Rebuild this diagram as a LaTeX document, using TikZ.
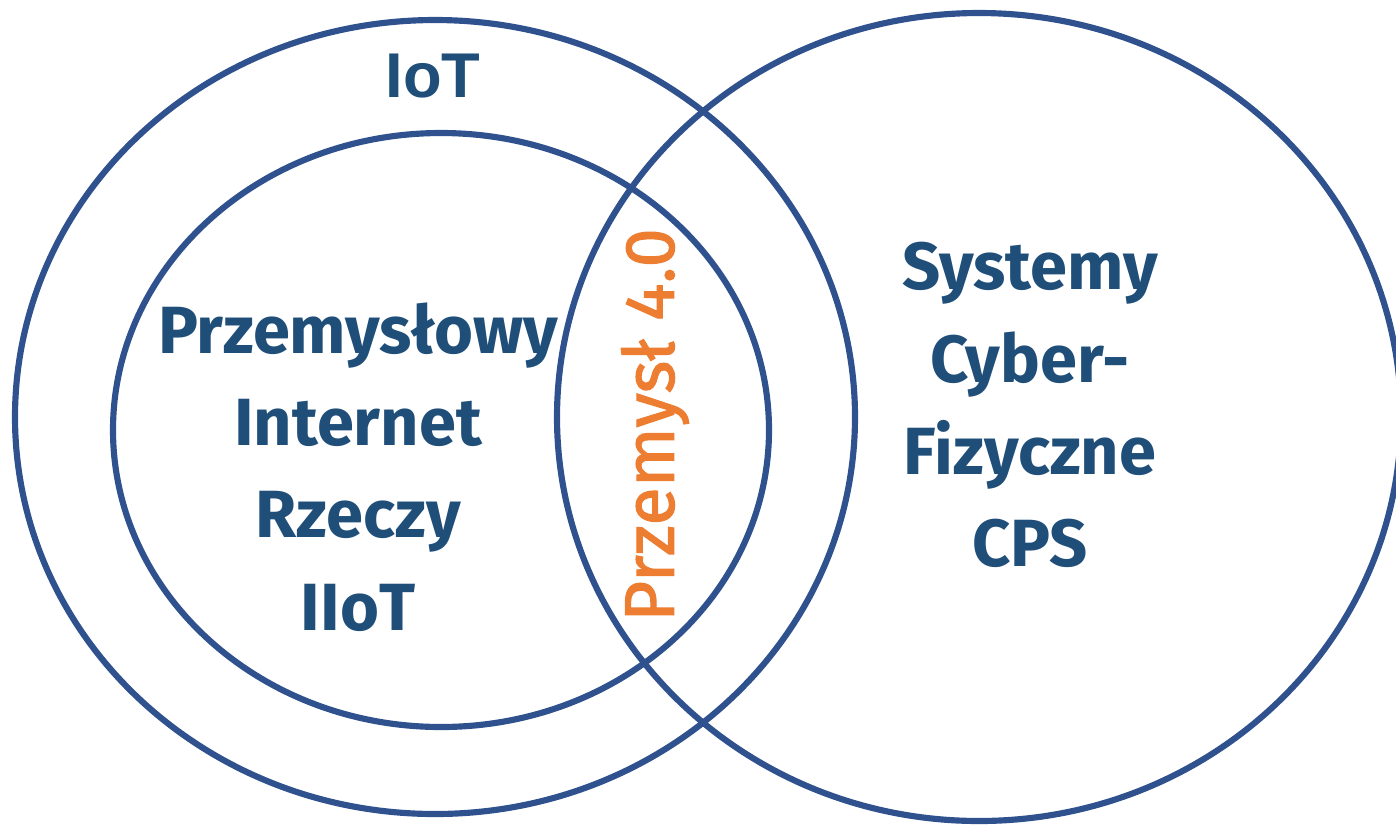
\documentclass[tikz,border=0pt]{standalone}
\usepackage{fontspec}
\setmainfont{Fira Sans}
\newfontfamily\arialfont{Liberation Sans}
\newfontfamily\thickfont{Fira Sans}[FakeBold=1.6]
\usepackage{tikz}
\usetikzlibrary{positioning}
\definecolor{ringblue}{RGB}{47, 82, 143}
\definecolor{textblue}{RGB}{31, 78, 121}
\definecolor{industryorange}{RGB}{237, 125, 49}

\tikzset{
    ring/.style={draw=ringblue, line width=3.5pt},
    biglabel/.style={text=textblue, font=\bfseries\fontsize{38}{52.5}\selectfont, align=center},
}

\begin{document}
\begin{tikzpicture}[x=0.02cm, y=-0.02cm]
    % canvas
    \useasboundingbox (0,0) rectangle (1396,826);
    \clip (0,0) rectangle (1396,826);

    % IoT ring and the IIoT ring inside it
    \draw[ring] (435,417) ellipse [x radius=420, y radius=397];
    \draw[ring] (441,430) ellipse [x radius=328, y radius=297];

    % CPS ring
    \draw[ring] (979,417) ellipse [x radius=422, y radius=404];

    % labels
    \node (iot) [text=textblue, font=\arialfont\bfseries\fontsize{36}{40}\selectfont] at (433,76) {IoT};
    \node (iiot) [biglabel] at (358,467) {Przemysłowy\\Internet\\Rzeczy\\IIoT};
    \node (cps) [biglabel] at (1030,405) {Systemy\\Cyber-\\Fizyczne\\CPS};
    \node (i40) [text=industryorange, font=\thickfont\fontsize{40}{42}\selectfont, rotate=90] at (655,425) {Przemysł 4.0};
\end{tikzpicture}
\end{document}
